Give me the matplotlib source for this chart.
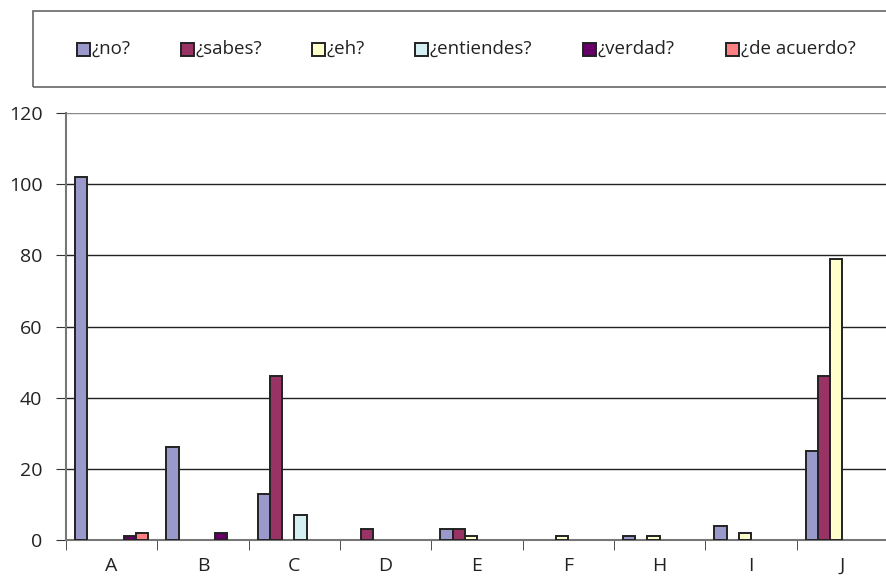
import numpy as np
import matplotlib.pyplot as plt
from matplotlib.patches import Rectangle

plt.rcParams['font.family'] = ['Open Sans', 'DejaVu Sans']

categories = ['A', 'B', 'C', 'D', 'E', 'F', 'H', 'I', 'J']
series_names = ['¿no?', '¿sabes?', '¿eh?', '¿entiendes?', '¿verdad?', '¿de acuerdo?']
no_vals = [102, 26, 13, 0, 3, 0, 1, 4, 25]
sabes_vals = [0, 0, 46, 3, 3, 0, 0, 0, 46]
eh_vals = [0, 0, 0, 0, 1, 1, 1, 2, 79]
entiendes_vals = [0, 0, 7, 0, 0, 0, 0, 0, 0]
verdad_vals = [1, 2, 0, 0, 0, 0, 0, 0, 0]
acuerdo_vals = [2, 0, 0, 0, 0, 0, 0, 0, 0]
colors = ['#9999CC', '#993366', '#FFFFCC', '#D5EFF3', '#660066', '#FF8080']

all_series = [no_vals, sabes_vals, eh_vals, entiendes_vals, verdad_vals, acuerdo_vals]

W, H = 887, 578
fig = plt.figure(figsize=(W / 100, H / 100), dpi=100)
ax = fig.add_axes([66 / W, 38 / H, 822 / W, 427 / H])

n = len(all_series)
bar_w = 1 / 7.5
x = np.arange(len(categories))
for i, (vals, col) in enumerate(zip(all_series, colors)):
    vals = np.array(vals)
    offs = (i - (n - 1) / 2) * bar_w
    keep = vals > 0  # empty categories get no bar at all
    ax.bar(x[keep] + offs, vals[keep], width=bar_w, color=col, edgecolor='#222222',
           linewidth=1.4, zorder=3)

ax.set_xlim(-0.5, len(categories) - 0.5)
ax.set_ylim(0, 120)
ax.set_yticks(range(0, 121, 20))
ax.set_xticks(x)
ax.set_xticklabels(categories)
ax.set_xticks(np.arange(len(categories) + 1) - 0.5, minor=True)
ax.tick_params(axis='x', which='major', length=0, pad=12, labelsize=14, colors='#222222')
ax.tick_params(axis='x', which='minor', length=7, direction='out', color='#333333')
ax.tick_params(axis='y', length=7, direction='out', color='#333333', labelsize=14,
               pad=10, labelcolor='#222222')

for y in range(20, 121, 20):
    ax.axhline(y, color='#888888' if y == 120 else '#222222', linewidth=1.0, zorder=1)

for s in ['top', 'right']:
    ax.spines[s].set_visible(False)
ax.spines['left'].set_color('#777777')
ax.spines['left'].set_linewidth(1.5)
ax.spines['bottom'].set_color('#777777')
ax.spines['bottom'].set_linewidth(1.5)

# legend frame across the top, entries laid out by hand
fig.patches.append(Rectangle((33 / W, 1 - 87 / H), 1.0, 76 / H,
                             transform=fig.transFigure, fill=False,
                             edgecolor='#666666', linewidth=1.2))
legend_x = [77, 181, 312, 415, 583, 726]
sq = 13
for lx, name, col in zip(legend_x, series_names, colors):
    fig.patches.append(Rectangle((lx / W, 1 - 56 / H), sq / W, sq / H,
                                 transform=fig.transFigure, facecolor=col,
                                 edgecolor='#222222', linewidth=1.4))
    fig.text((lx + sq + 2) / W, 1 - 49 / H, name, fontsize=13.5, va='center',
             ha='left', color='#222222')

fig.savefig('out.png', dpi=100)
